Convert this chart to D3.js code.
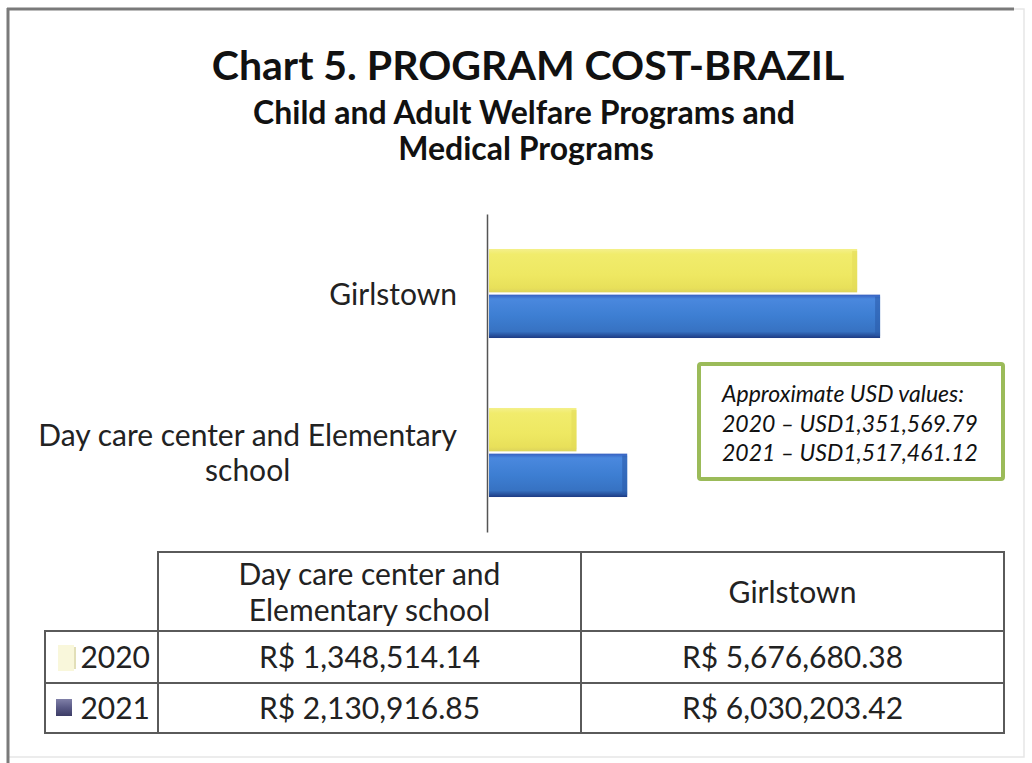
<!DOCTYPE html>
<html>
<head>
<meta charset="utf-8">
<script src="https://cdn.jsdelivr.net/npm/d3@7"></script>
<style>
  html, body { margin: 0; padding: 0; background: #fff; }
  svg { display: block; font-family: Lato, "Open Sans", sans-serif; }
</style>
</head>
<body>
<div id="chart"></div>
<script>
const W = 1032, H = 763;

// data
const programs = ["Day care center and Elementary school", "Girlstown"];
const years = ["2020", "2021"];
const cost2020 = [1348514.14, 5676680.38];
const cost2021 = [2130916.85, 6030203.42];
const costLabels2020 = ["R$ 1,348,514.14", "R$ 5,676,680.38"];
const costLabels2021 = ["R$ 2,130,916.85", "R$ 6,030,203.42"];
const usdNotes = ["Approximate USD values:", "2020 \u2013 USD1,351,569.79", "2021 \u2013 USD1,517,461.12"];

const series = [
  { year: years[0], values: cost2020, labels: costLabels2020 },
  { year: years[1], values: cost2021, labels: costLabels2021 }
];

const svg = d3.select("#chart").append("svg").attr("width", W).attr("height", H);
const defs = svg.append("defs");

// bar shading, excel-ish bevel
function vGrad(id, stops) {
  const g = defs.append("linearGradient").attr("id", id).attr("x1", 0).attr("y1", 0).attr("x2", 0).attr("y2", 1);
  stops.forEach(s => g.append("stop").attr("offset", s[0]).attr("stop-color", s[1]));
}
vGrad("g2020", [[0, "#f4f08a"], [0.12, "#f1ec6c"], [0.6, "#eee862"], [0.9, "#e8e05a"], [1, "#dcd35c"]]);
vGrad("g2021", [[0, "#3760c0"], [0.1, "#4a88de"], [0.5, "#3d7ed2"], [0.85, "#3772c2"], [1, "#1d3b84"]]);
vGrad("key2021", [[0, "#8080a8"], [0.5, "#5a5a86"], [1, "#3c3c66"]]);
const fills = { "2020": "url(#g2020)", "2021": "url(#g2021)" };
const capFills = { "2020": "#e2da58", "2021": "#2a5aa8" };

// frame
svg.append("rect").attr("x", 8).attr("y", 9).attr("width", 1016).attr("height", 748)
  .attr("fill", "none").attr("stroke", "#e6e6e6").attr("stroke-width", 1.5);
svg.append("line").attr("x1", 7).attr("x2", 1014).attr("y1", 9).attr("y2", 9).attr("stroke", "#7a7a7a").attr("stroke-width", 3);
svg.append("line").attr("x1", 8).attr("x2", 8).attr("y1", 8).attr("y2", H).attr("stroke", "#7a7a7a").attr("stroke-width", 3);

// titles
svg.append("text").attr("x", 528).attr("y", 80).attr("text-anchor", "middle")
  .attr("font-size", 41).attr("font-weight", 700).attr("fill", "#111").text("Chart 5. PROGRAM COST-BRAZIL");
svg.append("text").attr("x", 524).attr("y", 124).attr("text-anchor", "middle")
  .attr("font-size", 32).attr("font-weight", 700).attr("fill", "#111").text("Child and Adult Welfare Programs and");
svg.append("text").attr("x", 526).attr("y", 160).attr("text-anchor", "middle")
  .attr("font-size", 32).attr("font-weight", 700).attr("fill", "#111").text("Medical Programs");

// scales
const x = d3.scaleLinear().domain([0, 7000000]).range([489, 943]);
const barOrder = programs.slice().reverse(); // Girlstown on top
const y = d3.scaleBand().domain(barOrder).range([214, 532]).paddingInner(0.44).paddingOuter(0.22);
const ySub = d3.scaleBand().domain(years).range([0, y.bandwidth()]).paddingInner(0.05);

const plot = svg.append("g");
series.forEach(s => {
  const rows = programs.map((p, i) => ({ p, v: s.values[i] }));
  const g = plot.append("g");
  g.selectAll("rect.bar").data(rows).join("rect").attr("class", "bar")
    .attr("x", x(0))
    .attr("y", d => y(d.p) + ySub(s.year))
    .attr("width", d => x(d.v) - x(0))
    .attr("height", ySub.bandwidth())
    .attr("fill", fills[s.year]);
  // darker bevel at the bar end
  g.selectAll("rect.cap").data(rows).join("rect").attr("class", "cap")
    .attr("x", d => x(d.v) - 5)
    .attr("y", d => y(d.p) + ySub(s.year) + 2)
    .attr("width", 5)
    .attr("height", ySub.bandwidth() - 4)
    .attr("fill", capFills[s.year]).attr("opacity", 0.55);
});

// category axis
const yAxis = d3.axisLeft(y).tickSize(0).tickFormat("");
const ya = svg.append("g").attr("transform", `translate(${x(0) - 2},0)`).call(yAxis);
ya.select(".domain").attr("stroke", "#555").attr("stroke-width", 1.5);

// category labels
const labelLines = {
  "Girlstown": ["Girlstown"],
  "Day care center and Elementary school": ["Day care center and Elementary", "school"]
};
barOrder.forEach(p => {
  const lines = labelLines[p];
  const cy = y(p) + y.bandwidth() / 2;
  const lh = 35;
  const t = svg.append("text").attr("font-size", 30).attr("fill", "#222");
  lines.forEach((ln, i) => {
    t.append("tspan").attr("y", cy + 11 + (i - (lines.length - 1) / 2) * lh).text(ln);
  });
  // right-aligned block, lines centred inside it
  const spans = t.selectAll("tspan").nodes();
  const widths = spans.map(n => n.getComputedTextLength());
  const blockW = d3.max(widths), right = 457;
  spans.forEach((n, i) => d3.select(n).attr("x", right - blockW + (blockW - widths[i]) / 2));
});

// USD note box
const note = svg.append("g");
note.append("rect").attr("x", 699).attr("y", 364).attr("width", 304).attr("height", 115)
  .attr("fill", "#fff").attr("stroke", "#9bbb59").attr("stroke-width", 4).attr("rx", 2);
note.selectAll("text").data(usdNotes).join("text")
  .attr("x", 722).attr("y", (d, i) => 402 + i * 29.5)
  .attr("font-size", 23).attr("font-style", "italic").attr("fill", "#111")
  .text(d => d);

// data table
const colX = [45, 158, 581, 1004];
const rowY = [552, 631, 683, 733];
const tbl = svg.append("g").attr("stroke", "#5a5a5a").attr("stroke-width", 2);
tbl.append("rect").attr("x", colX[1]).attr("y", rowY[0]).attr("width", colX[3] - colX[1]).attr("height", rowY[1] - rowY[0]).attr("fill", "none");
tbl.append("rect").attr("x", colX[0]).attr("y", rowY[1]).attr("width", colX[3] - colX[0]).attr("height", rowY[3] - rowY[1]).attr("fill", "none");
tbl.append("line").attr("x1", colX[0]).attr("x2", colX[3]).attr("y1", rowY[2]).attr("y2", rowY[2]);
tbl.append("line").attr("x1", colX[1]).attr("x2", colX[1]).attr("y1", rowY[0]).attr("y2", rowY[3]);
tbl.append("line").attr("x1", colX[2]).attr("x2", colX[2]).attr("y1", rowY[0]).attr("y2", rowY[3]);

const headLines = { "Day care center and Elementary school": ["Day care center and", "Elementary school"], "Girlstown": ["Girlstown"] };
programs.forEach((p, ci) => {
  const cx = (colX[ci + 1] + colX[ci + 2]) / 2;
  const lines = headLines[p];
  const cy = (rowY[0] + rowY[1]) / 2;
  svg.append("text").attr("text-anchor", "middle").attr("font-size", 30).attr("fill", "#222")
    .selectAll("tspan").data(lines).join("tspan")
    .attr("x", cx).attr("y", (d, i) => cy + 11 + (i - (lines.length - 1) / 2) * 36)
    .text(d => d);
});

series.forEach((s, ri) => {
  const cy = (rowY[ri + 1] + rowY[ri + 2]) / 2 + 11;
  svg.append("text").attr("x", colX[1] - 8).attr("y", cy).attr("text-anchor", "end")
    .attr("font-size", 30).attr("fill", "#222").text(s.year);
  s.labels.forEach((lab, ci) => {
    svg.append("text").attr("x", (colX[ci + 1] + colX[ci + 2]) / 2).attr("y", cy)
      .attr("text-anchor", "middle").attr("font-size", 30).attr("fill", "#222").text(lab);
  });
});
// legend keys in the table
svg.append("rect").attr("x", 58).attr("y", 645).attr("width", 16).attr("height", 26).attr("fill", "#f6f4cc").attr("opacity", 0.7);
svg.append("line").attr("x1", 75).attr("x2", 75).attr("y1", 647).attr("y2", 669).attr("stroke", "#d8d4a0").attr("stroke-width", 1.5);
svg.append("rect").attr("x", 56).attr("y", 699).attr("width", 16).attr("height", 17).attr("fill", "url(#key2021)");
</script>
</body>
</html>
